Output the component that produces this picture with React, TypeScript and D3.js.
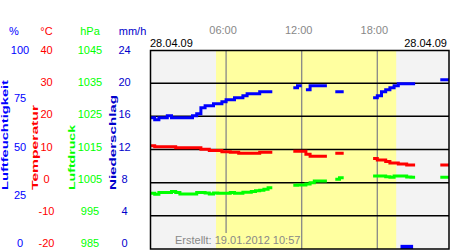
import React from "react";
import * as d3 from "d3";

// ---- data ----
const sampleStepHours = 1 / 3; // one sample every 20 minutes
const timeTicks = [6, 12, 18];
const timeLabels = ["06:00", "12:00", "18:00"];
const dateLabel = "28.04.09";
const createdLabel = "Erstellt: 19.01.2012 10:57";
const daylight = [5.2, 19.5];

const humTicks = [100, 75, 50, 25, 0];
const tempTicks = [40, 30, 20, 10, 0, -10, -20];
const presTicks = [1045, 1035, 1025, 1015, 1005, 995, 985];
const rainTicks = [24, 20, 16, 12, 8, 4, 0];

const humidity: (number | null)[] = [
  66, 65, 66, 66, 67, 66, 66, 66, 66, 66, 67, 68, 71, 72, 72, 73, 73, 74, 75, 75,
  76, 76, 77, 78, 78, 78, 79, 79, 79, null, null, null, null, null, 81, 82, null, 80, 82, 82,
  82, 82, null, null, 79, 79, null, null, null, null, null, null, null, 76, 77, 79, 80, 81, 82, 83,
  83, 83, 83, null, null, null, null, null, null, 85, 85, 85,
];

const temperature: (number | null)[] = [
  11.1, 10.8, 10.8, 10.8, 10.8, 10.8, 10.5, 10.5, 10.5, 10.5, 10.5, 10.5, 10.1, 10.1, 9.7, 9.7, 9.7, 9.3, 9.3, 9.2,
  9.2, 8.9, 8.9, 8.9, 8.9, 8.9, 9.2, 9.2, 9.2, null, null, null, null, null, 9.5, 9.5, 9.5, 8.6, 8.0, 8.0,
  8.0, 8.0, null, null, 8.9, 8.9, null, null, null, null, null, null, null, 7.3, 6.8, 6.8, 6.4, 5.9, 5.9, 5.6,
  5.6, 5.3, 5.3, null, null, null, null, null, null, 5.3, 5.3, 5.3,
];

const pressure: (number | null)[] = [
  1001.8, 1001.5, 1002.0, 1002.0, 1002.0, 1002.3, 1002.0, 1001.6, 1001.6, 1001.6, 1001.6, 1002.0, 1002.0, 1001.9, 1001.6, 1001.9, 1001.8, 1001.8, 1001.8, 1002.0,
  1001.8, 1001.8, 1002.1, 1002.1, 1002.3, 1002.6, 1002.7, 1003.0, 1003.5, null, null, null, null, null, 1004.2, 1004.3, 1004.3, 1004.6, 1005.0, 1005.5,
  1005.5, 1005.5, null, null, 1006.0, 1006.5, null, null, null, null, null, null, null, 1007.0, 1007.0, 1007.0, 1006.8, 1006.6, 1007.0, 1007.0,
  1007.0, 1006.7, 1006.6, null, null, null, null, null, null, 1006.6, 1006.6, 1006.6,
];

const rainHours = [20];
const rainValues = [0.5];

// ---- layout ----
const W = 450;
const H = 250;
const L = 150;
const R = 449;
const T = 50;
const B = 249;
const FONT = "'Liberation Sans', Arial, sans-serif";

const x = d3.scaleLinear().domain([0, 24]).range([150.5, 452.9]);
const yHum = d3.scaleLinear().domain([0, 100]).range([B, T]);
const yTemp = d3.scaleLinear().domain([-20, 40]).range([B, T]);
const yPres = d3.scaleLinear().domain([985, 1045]).range([B, T]);
const yRain = d3.scaleLinear().domain([0, 24]).range([B, T]);

// label positions are spaced slightly tighter than the grid
const lHum = d3.scaleLinear().domain([0, 100]).range([243.2, 50]);
const lTemp = d3.scaleLinear().domain([-20, 40]).range([243.2, 50]);
const lPres = d3.scaleLinear().domain([985, 1045]).range([243.2, 50]);
const lRain = d3.scaleLinear().domain([0, 24]).range([243.2, 50]);

function stepPath(values: (number | null)[], y: d3.ScaleLinear<number, number>) {
  const p = d3.path();
  let inRun = false;
  values.forEach((v, i) => {
    if (v == null) {
      inRun = false;
      return;
    }
    const x0 = x(i * sampleStepHours);
    const x1 = x((i + 1) * sampleStepHours);
    const yy = y(v);
    if (inRun) p.lineTo(x0, yy);
    else p.moveTo(x0, yy);
    p.lineTo(x1, yy);
    inRun = true;
  });
  return p.toString();
}

export default function App() {
  const humColor = "#0000ff";
  const tempColor = "#ff0000";
  const presColor = "#00ff00";
  const rainColor = "#0000cc";

  const rotLabels = [
    { text: "Luftfeuchtigkeit", x: 7.5, len: 110, color: humColor },
    { text: "Temperatur", x: 37.5, len: 85, color: tempColor },
    { text: "Luftdruck", x: 75, len: 65, color: presColor },
    { text: "Niederschlag", x: 115.5, len: 95, color: rainColor },
  ];

  return (
    <svg
      width={W}
      height={H}
      style={{ position: "fixed", left: 0, top: 0, background: "#fff" }}
      fontFamily={FONT}
    >
      <defs>
        <clipPath id="plot">
          <rect x={L} y={T} width={R - L} height={B - T} />
        </clipPath>
        <mask id="noText">
          <rect x={0} y={0} width={W} height={H} fill="#fff" />
          <rect x={172} y={233} width={128} height={17} fill="#000" />
        </mask>
      </defs>

      {/* backgrounds */}
      <g clipPath="url(#plot)">
        <rect x={L} y={T} width={R - L} height={B - T} fill="#f3f3f3" />
        <rect
          x={x(daylight[0])}
          y={T}
          width={x(daylight[1]) - x(daylight[0])}
          height={B - T}
          fill="#ffffa0"
        />
        <g mask="url(#noText)">
          {timeTicks.map((t) => (
            <line key={t} x1={x(t)} x2={x(t)} y1={T} y2={B} stroke="#888" strokeWidth={1.3} />
          ))}
        </g>
        {tempTicks
          .filter((t) => t > -20 && t < 40)
          .map((t) => (
            <line key={t} x1={L} x2={R} y1={yTemp(t)} y2={yTemp(t)} stroke="#000" strokeWidth={1.5} />
          ))}
        <path d={stepPath(pressure, yPres)} fill="none" stroke={presColor} strokeWidth={3} />
        <path d={stepPath(temperature, yTemp)} fill="none" stroke={tempColor} strokeWidth={3} />
        <path d={stepPath(humidity, yHum)} fill="none" stroke={humColor} strokeWidth={3} />
        {rainHours.map((h, i) => (
          <rect
            key={h}
            x={x(h) - 2}
            y={yRain(rainValues[i])}
            width={x(h + 1) - x(h)}
            height={B - yRain(rainValues[i])}
            fill="#0000ff"
          />
        ))}
      </g>

      {/* frame */}
      <rect x={L + 0.5} y={T + 0.5} width={R - L - 0.5} height={B - T - 0.5} fill="none" stroke="#000" strokeWidth={1.5} />

      {/* top labels */}
      {timeTicks.map((t, i) => (
        <text key={t} x={x(t) - 3} y={34} fontSize={11} fill="#888" textAnchor="middle">
          {timeLabels[i]}
        </text>
      ))}
      <text x={150} y={47} fontSize={11} fill="#000">
        {dateLabel}
      </text>
      <text x={447} y={47} fontSize={11} fill="#000" textAnchor="end">
        {dateLabel}
      </text>

      {/* unit headers */}
      <text x={14} y={35} fontSize={11} fill={humColor} textAnchor="middle">%</text>
      <text x={46.5} y={35} fontSize={11} fill={tempColor} textAnchor="middle">°C</text>
      <text x={90} y={35} fontSize={11} fill={presColor} textAnchor="middle">hPa</text>
      <text x={132.5} y={35} fontSize={11} fill={rainColor} textAnchor="middle">mm/h</text>

      {/* tick labels */}
      {humTicks.map((v) => (
        <text key={v} x={20} y={lHum(v) + 4} fontSize={11} fill={humColor} textAnchor="middle">{v}</text>
      ))}
      {tempTicks.map((v) => (
        <text key={v} x={46.5} y={lTemp(v) + 4} fontSize={11} fill={tempColor} textAnchor="middle">{v}</text>
      ))}
      {presTicks.map((v) => (
        <text key={v} x={90} y={lPres(v) + 4} fontSize={11} fill={presColor} textAnchor="middle">{v}</text>
      ))}
      {rainTicks.map((v) => (
        <text key={v} x={124.5} y={lRain(v) + 4} fontSize={11} fill={rainColor} textAnchor="middle">{v}</text>
      ))}

      {/* rotated axis titles */}
      {rotLabels.map((r) => (
        <text
          key={r.text}
          transform={`translate(${r.x},190) rotate(-90)`}
          fontSize={9.5}
          fontWeight="bold"
          fill={r.color}
          textLength={r.len}
          lengthAdjust="spacingAndGlyphs"
        >
          {r.text}
        </text>
      ))}

      {/* created note */}
      <text x={175} y={244} fontSize={11} fill="#888">
        {createdLabel}
      </text>
    </svg>
  );
}
